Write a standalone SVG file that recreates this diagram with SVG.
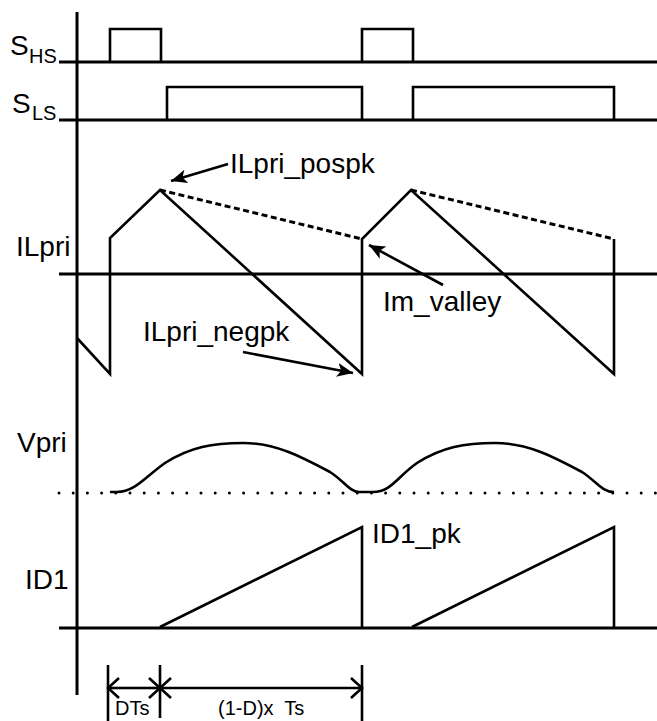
<svg xmlns="http://www.w3.org/2000/svg" width="657" height="721" viewBox="0 0 657 721">
<style>
.ax{stroke:#000;stroke-width:3;fill:none}
.wf{stroke:#000;stroke-width:2.6;fill:none;stroke-linejoin:miter}
.ds{stroke:#000;stroke-width:3;fill:none;stroke-dasharray:6 3.5}
.dt{stroke:#000;stroke-width:3;fill:none;stroke-dasharray:0 14.2;stroke-linecap:round}
.an{stroke:#000;stroke-width:2.6;fill:none}
.dim{stroke:#000;stroke-width:2.6;fill:none}
.lb{font-family:"Liberation Sans",Arial,sans-serif;font-size:28px;fill:#000}
.sm{font-family:"Liberation Sans",Arial,sans-serif;font-size:20px;fill:#000}
</style>
<defs>
<marker id="ah" markerUnits="userSpaceOnUse" markerWidth="18" markerHeight="14" refX="16" refY="7" orient="auto">
<path d="M0,0 L16,7 L0,14 L4,7 Z" fill="#000"/>
</marker>
<marker id="oa" markerUnits="userSpaceOnUse" markerWidth="14" markerHeight="24" refX="12" refY="12" orient="auto" overflow="visible">
<path d="M1,2 L12,12 L1,22" fill="none" stroke="#000" stroke-width="2.6"/>
</marker>
</defs>

<g id="axes">
<line class="ax" x1="77" y1="12" x2="77" y2="695"/>
<line class="ax" x1="59" y1="62" x2="657" y2="62"/>
<line class="ax" x1="59" y1="120" x2="657" y2="120"/>
<line class="ax" x1="59" y1="274" x2="657" y2="274"/>
<line class="dt" x1="59" y1="493" x2="657" y2="493"/>
<line class="ax" x1="59" y1="628" x2="657" y2="628"/>
</g>

<g id="labels">
<text class="lb" x="10" y="55">S</text><text class="sm" x="29" y="63">HS</text>
<text class="lb" x="12" y="113">S</text><text class="sm" x="32" y="120">LS</text>
<text class="lb" x="16" y="256">ILpri</text>
<text class="lb" x="17" y="452">Vpri</text>
<text class="lb" x="25" y="589">ID1</text>
</g>

<g id="shs">
<polyline class="wf" points="110,62 110,29 161,29 161,62"/>
<polyline class="wf" points="362,62 362,29 413,29 413,62"/>
</g>

<g id="sls">
<polyline class="wf" points="167,120 167,87 362,87 362,120"/>
<polyline class="wf" points="413,120 413,87 614,87 614,120"/>
</g>

<g id="ilpri">
<polyline class="wf" points="77,338 110,374 110,238 160,190 362,374 362,239 411,190 614,374 614,239"/>
<line class="ds" x1="160" y1="190" x2="362" y2="239"/>
<line class="ds" x1="411" y1="190" x2="614" y2="239"/>
</g>

<g id="vpri">
<path class="wf" d="M110,492 L117,492 C135,492 145,477 165,463 C190,447 213,443 243,443 C275,443 300,456 330,472 C344,481 350,492 359,492 L373,492 C391,492 397,477 417,463 C442,447 465,443 495,443 C527,443 552,456 582,472 C596,481 602,492 614,492"/>
</g>

<g id="id1">
<polyline class="wf" points="160,627 362,527 362,628"/>
<polyline class="wf" points="412,627 614,527 614,628"/>
</g>

<g id="annotations">
<text class="lb" x="230" y="173">ILpri_pospk</text>
<line class="an" x1="228" y1="164" x2="171" y2="181" marker-end="url(#ah)"/>
<text class="lb" x="143" y="341">ILpri_negpk</text>
<line class="an" x1="243" y1="352" x2="353" y2="373" marker-end="url(#ah)"/>
<text class="lb" x="383" y="311">Im_valley</text>
<line class="an" x1="443" y1="285" x2="369" y2="245" marker-end="url(#ah)"/>
<text class="lb" x="372" y="543">ID1_pk</text>
</g>

<g id="dimension">
<line class="dim" x1="108" y1="665" x2="108" y2="721"/>
<line class="dim" x1="160" y1="665" x2="160" y2="718"/>
<line class="dim" x1="362" y1="665" x2="362" y2="721"/>
<line class="dim" x1="134" y1="688" x2="108" y2="688" marker-end="url(#oa)"/>
<line class="dim" x1="134" y1="688" x2="160" y2="688" marker-end="url(#oa)"/>
<line class="dim" x1="261" y1="688" x2="160" y2="688" marker-end="url(#oa)"/>
<line class="dim" x1="261" y1="688" x2="362" y2="688" marker-end="url(#oa)"/>
<text class="sm" x="115" y="715">DTs</text>
<text class="sm" x="218" y="715" xml:space="preserve">(1-D)x  Ts</text>
</g>
</svg>
